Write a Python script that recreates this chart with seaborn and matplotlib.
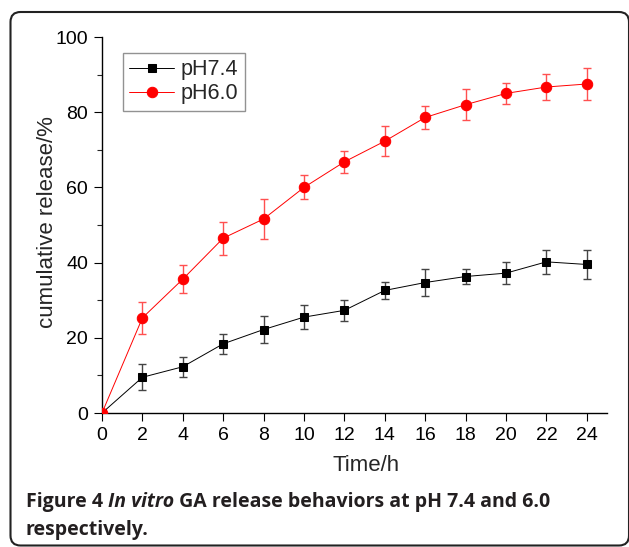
import numpy as np
import pandas as pd
import matplotlib
matplotlib.use("Agg")
import matplotlib.pyplot as plt
import matplotlib.font_manager as fm
import seaborn as sns
from matplotlib.patches import FancyBboxPatch
from matplotlib.transforms import IdentityTransform

# ---- data ----
time_h = [0, 2, 4, 6, 8, 10, 12, 14, 16, 18, 20, 22, 24]
ph74 = [0, 9.5, 12.3, 18.4, 22.2, 25.5, 27.3, 32.6, 34.7, 36.3, 37.2, 40.2, 39.5]
ph74_err = [0, 3.5, 2.7, 2.6, 3.5, 3.1, 2.7, 2.2, 3.5, 2.0, 3.0, 3.2, 3.9]
ph60 = [0, 25.3, 35.6, 46.5, 51.6, 60.0, 66.8, 72.3, 78.6, 82.0, 85.0, 86.7, 87.5]
ph60_err = [0, 4.3, 3.7, 4.4, 5.3, 3.2, 3.0, 3.9, 3.1, 4.1, 2.8, 3.4, 4.2]
series_names = ["pH7.4", "pH6.0"]
x_ticks = list(range(0, 25, 2))
y_ticks = [0, 20, 40, 60, 80, 100]
x_label = "Time/h"
y_label = "cumulative release/%"
caption_parts = ["Figure 4 ", "In vitro", " GA release behaviors at pH 7.4 and 6.0"]
caption_line2 = "respectively."

df = pd.DataFrame({
    "time": time_h * 2,
    "release": ph74 + ph60,
    "err": ph74_err + ph60_err,
    "series": [series_names[0]] * len(time_h) + [series_names[1]] * len(time_h),
})

sns.set_theme(style="ticks")
plt.rcParams["font.family"] = ["Liberation Sans", "DejaVu Sans"]

W, H = 629, 547
fig = plt.figure(figsize=(W / 100, H / 100), dpi=100)
ax = fig.add_axes([102 / W, 1 - 413 / H, 505 / W, 376 / H])

colors = {"pH7.4": "#000000", "pH6.0": "#ff0000"}
ecolors = {"pH7.4": "#444444", "pH6.0": "#ff5050"}
markers = {"pH7.4": "s", "pH6.0": "o"}
msizes = {"pH7.4": 6.3, "pH6.0": 7.5}

for name in series_names:
    sub = df[df["series"] == name]
    ax.errorbar(sub["time"], sub["release"], yerr=sub["err"], fmt="none",
                ecolor=ecolors[name], elinewidth=1.0, capsize=3.0, capthick=1.0,
                zorder=2)
    sns.lineplot(data=sub, x="time", y="release", ax=ax, color=colors[name],
                 marker=markers[name], markersize=msizes[name],
                 markeredgecolor=colors[name], linewidth=0.7, label=name,
                 zorder=3)

ax.set_xlim(0, 25)
ax.set_ylim(0, 100)
ax.set_xticks(x_ticks)
ax.set_yticks(y_ticks)
ax.set_yticks([10, 30, 50, 70, 90], minor=True)
ax.tick_params(axis="both", which="major", direction="out", length=5.5,
               width=0.8, labelsize=14, pad=4.5, colors="black")
ax.tick_params(axis="y", which="minor", direction="out", length=3.5, width=0.8)
for s in ["top", "right"]:
    ax.spines[s].set_visible(False)
for s in ["left", "bottom"]:
    ax.spines[s].set_linewidth(1.0)
    ax.spines[s].set_color("black")
ax.set_xlabel(x_label, fontsize=16)
ax.set_ylabel(y_label, fontsize=16)
ax.xaxis.set_label_coords((366 - 102) / 505, -0.112)
ax.yaxis.set_label_coords(-0.088, 0.508)

leg = ax.legend(loc="upper left", bbox_to_anchor=(0.041, 0.958),
                borderaxespad=0, fontsize=15.5, frameon=True, fancybox=False,
                handlelength=2.1, handletextpad=0.3, labelspacing=0.15,
                borderpad=0.3)
leg.get_frame().set_edgecolor("#777777")
leg.get_frame().set_linewidth(1.0)

# rounded frame around the whole figure (pixel coords, y up)
frame = FancyBboxPatch((10.5, 1.5), 618.5, H - 12 - 1.5,
                       boxstyle="round,pad=0,rounding_size=10",
                       transform=IdentityTransform(), facecolor="none",
                       edgecolor="#222222", linewidth=1.5, clip_on=False)
fig.add_artist(frame)


# caption fonts: prefer non-condensed Open Sans Bold / Bold Italic
def pick_font(family, style, fallback):
    cands = [f for f in fm.fontManager.ttflist
             if f.name == family and f.style == style]
    def score(f):
        w = f.weight if isinstance(f.weight, int) else fm.weight_dict.get(f.weight, 400)
        cond = ("cond" in f.fname.lower()) or (f.stretch not in ("normal", 500, "medium"))
        return (cond, abs(w - 700))
    if cands:
        best = min(cands, key=score)
        if not score(best)[0]:
            return fm.FontProperties(fname=best.fname)
    return fm.FontProperties(family=fallback, weight="bold", style=style)


fp_bold = pick_font("Open Sans", "normal", "Noto Sans")
fp_bi = pick_font("Open Sans", "italic", "Noto Sans")
cap_color = "#231f20"
renderer = fig.canvas.get_renderer()
x0 = 26 / W
y1 = 1 - 507 / H
target_width = 551 - 26


def draw_caption(size):
    texts = []
    xc = x0
    for i, txt in enumerate(caption_parts):
        fp = (fp_bi if i == 1 else fp_bold).copy()
        fp.set_size(size)
        t = fig.text(xc, y1, txt, fontproperties=fp, color=cap_color,
                     ha="left", va="baseline")
        bb = t.get_window_extent(renderer=renderer)
        xc += bb.width / W
        texts.append(t)
    return texts, (xc - x0) * W


texts, wpx = draw_caption(12)
size = max(10.0, min(14.0, 12 * target_width / wpx))
for t in texts:
    t.remove()
texts, wpx = draw_caption(size)
fp2 = fp_bold.copy()
fp2.set_size(size)
fig.text(x0, 1 - 535 / H, caption_line2, fontproperties=fp2,
         color=cap_color, ha="left", va="baseline")

fig.savefig("out.png", dpi=100)
